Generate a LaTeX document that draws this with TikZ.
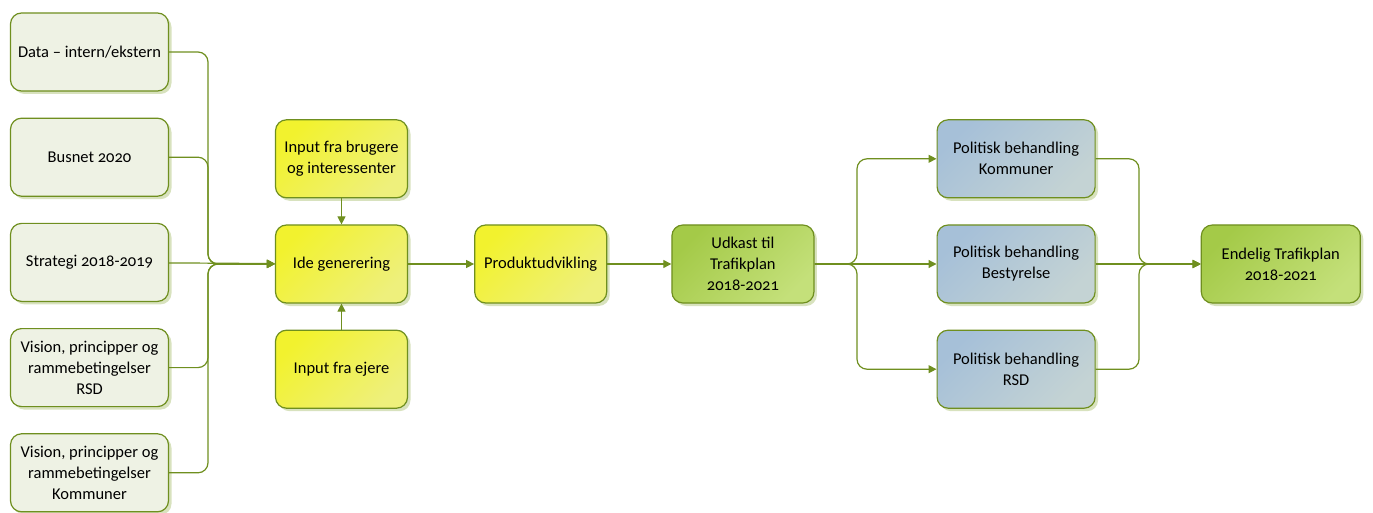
\documentclass[tikz,border=0pt]{standalone}
\usepackage{fontspec}
\setmainfont{Carlito}[Numbers=OldStyle]
\usetikzlibrary{arrows.meta,positioning,shadows}
\definecolor{olive}{HTML}{6F8F1F}
\definecolor{pale}{HTML}{EEF2E4}
\definecolor{lemon}{HTML}{F2F22E}
\definecolor{lemonlt}{HTML}{EEF07C}
\definecolor{leaf}{HTML}{A4CA48}
\definecolor{leaflt}{HTML}{C4E07A}
\definecolor{steel}{HTML}{A6C0D8}
\definecolor{steellt}{HTML}{C4D3D4}
\definecolor{shade}{HTML}{D8E2BE}

\begin{document}
\begin{tikzpicture}[x=1pt, y=-1pt,
  box/.style={draw=olive, line width=1.2pt, rounded corners=11pt, align=center,
              font=\fontsize{16.5}{21}\selectfont, minimum height=78pt, inner sep=2pt,
              drop shadow={shadow xshift=3pt, shadow yshift=-3pt, fill=shade, opacity=1}},
  src/.style={box, fill=pale, minimum width=158pt},
  idea/.style={box, top color=lemon, bottom color=lemonlt, shading angle=45, minimum width=132pt},
  draft/.style={box, top color=leaf, bottom color=leaflt, shading angle=45, minimum width=142pt},
  pol/.style={box, top color=steel, bottom color=steellt, shading angle=45, minimum width=158pt},
  conn/.style={-{Triangle[length=8pt, width=8pt]}, line width=1.2pt, olive, rounded corners=10pt}
]
  \useasboundingbox (0,0) rectangle (1373,513);

  % inputs on the left
  \node[src] (data) at (89.5,52) {Data – intern/ekstern};
  \node[src, below=26pt of data] (busnet) {Busnet 2020};
  \node[src, below=26pt of busnet] (strat) {Strategi 2018-2019};
  \node[src, below=26pt of strat] (vrsd) {Vision, principper og\\rammebetingelser\\RSD};
  \node[src, below=26pt of vrsd] (vkomm) {Vision, principper og\\rammebetingelser\\Kommuner};

  % idea and product
  \node[idea] (ide) at (341.5,264) {Ide generering};
  \node[idea, above=26pt of ide] (brug) {Input fra brugere\\og interessenter};
  \node[idea, below=26pt of ide] (ejere) {Input fra ejere};
  \node[idea, right=66pt of ide] (prod) {Produktudvikling};

  % plan and political treatment
  \node[draft, right=64pt of prod] (udkast) {Udkast til\\Trafikplan\\2018-2021};
  \node[pol, right=122pt of udkast] (bestyr) {Politisk behandling\\Bestyrelse};
  \node[pol, above=26pt of bestyr] (komm) {Politisk behandling\\Kommuner};
  \node[pol, below=26pt of bestyr] (rsd) {Politisk behandling\\RSD};
  \node[draft, right=105pt of bestyr, minimum width=159pt] (endelig) {Endelig Trafikplan\\2018-2021};

  \coordinate (jl) at (208,264);
  \coordinate (jr) at (857,264);
  \coordinate (jm) at (1139,264);

  \foreach \n in {data,busnet,vrsd,vkomm}
    \draw[conn] (\n.east) -| (jl) -- (ide.west);
  \draw[conn] (strat) -- (ide);
  \draw[conn] (brug) -- (ide);
  \draw[conn] (ejere) -- (ide);
  \draw[conn] (ide) -- (prod);
  \draw[conn] (prod) -- (udkast);
  \foreach \n in {komm,rsd}
    \draw[conn] (udkast.east) -- (jr) |- (\n.west);
  \draw[conn] (udkast) -- (bestyr);
  \foreach \n in {komm,rsd}
    \draw[conn] (\n.east) -| (jm) -- (endelig.west);
  \draw[conn] (bestyr) -- (endelig);
\end{tikzpicture}
\end{document}
